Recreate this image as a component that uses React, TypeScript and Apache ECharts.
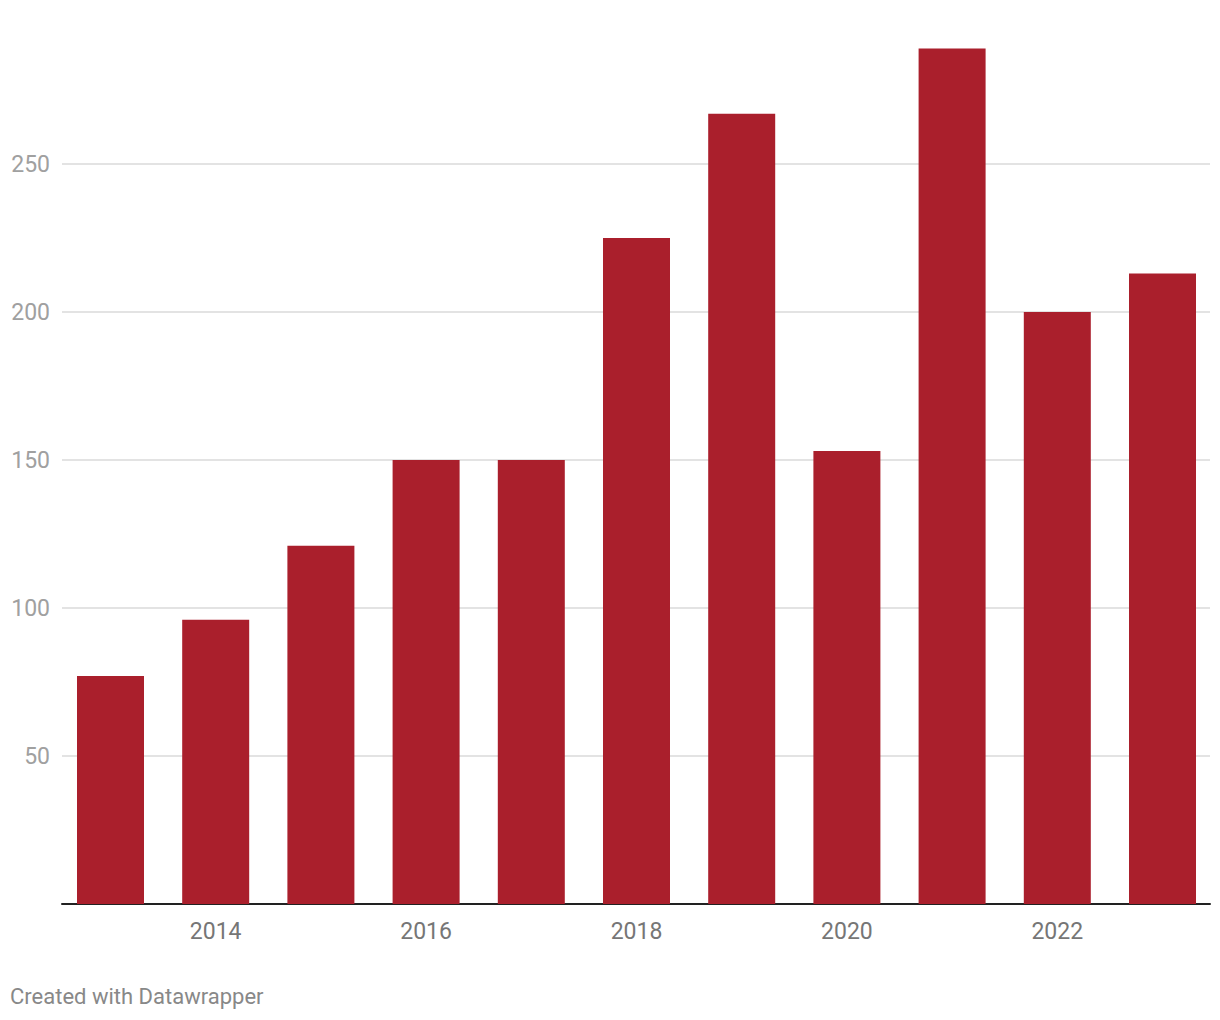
import React, { useEffect, useRef } from "react";
import * as echarts from "echarts";

const years = [2013, 2014, 2015, 2016, 2017, 2018, 2019, 2020, 2021, 2022, 2023];
const values = [77, 96, 121, 150, 150, 225, 267, 153, 289, 200, 213];
const yTicks = [0, 50, 100, 150, 200, 250, 300];
const footer = "Created with Datawrapper";

export default function App() {
  const ref = useRef<HTMLDivElement>(null);
  useEffect(() => {
    document.body.style.margin = "0";
    const chart = echarts.init(ref.current!, null, { renderer: "svg" });
    const font = "Roboto, 'Noto Sans', sans-serif";
    chart.setOption({
      animation: false,
      backgroundColor: "#ffffff",
      grid: { left: 62, right: 10, top: 16, bottom: 116, containLabel: false },
      xAxis: {
        type: "value",
        min: 2012.539,
        max: 2023.4515,
        minInterval: 2,
        maxInterval: 2,
        splitLine: { show: false },
        axisTick: { show: false },
        axisLine: { show: true, onZero: false, lineStyle: { color: "#222222", width: 2 } },
        axisLabel: {
          showMinLabel: false,
          showMaxLabel: false,
          color: "#767676",
          fontFamily: font,
          fontSize: 23,
          margin: 16,
          formatter: (v: number) => (Number.isInteger(v) && v % 2 === 0 ? String(v) : ""),
        },
      },
      yAxis: {
        type: "value",
        min: yTicks[0],
        max: yTicks[yTicks.length - 1],
        interval: 50,
        axisLine: { show: false },
        axisTick: { show: false },
        splitLine: {
          show: true,
          showMinLine: false,
          showMaxLine: false,
          lineStyle: { color: "#e3e3e3", width: 2 },
        },
        axisLabel: {
          showMinLabel: false,
          showMaxLabel: false,
          color: "#a0a0a0",
          fontFamily: font,
          fontSize: 23,
          margin: 12,
        },
      },
      series: [
        {
          type: "bar",
          barWidth: 67,
          itemStyle: { color: "#aa1f2c" },
          data: years.map((y, i) => [y, values[i]]),
          z: 3,
        },
      ],
      graphic: [
        {
          type: "text",
          left: 10,
          top: 985,
          style: { text: footer, fill: "#888888", font: `22px ${font}` },
        },
      ],
    });
    return () => chart.dispose();
  }, []);
  return <div ref={ref} style={{ width: 1220, height: 1020 }} />;
}
